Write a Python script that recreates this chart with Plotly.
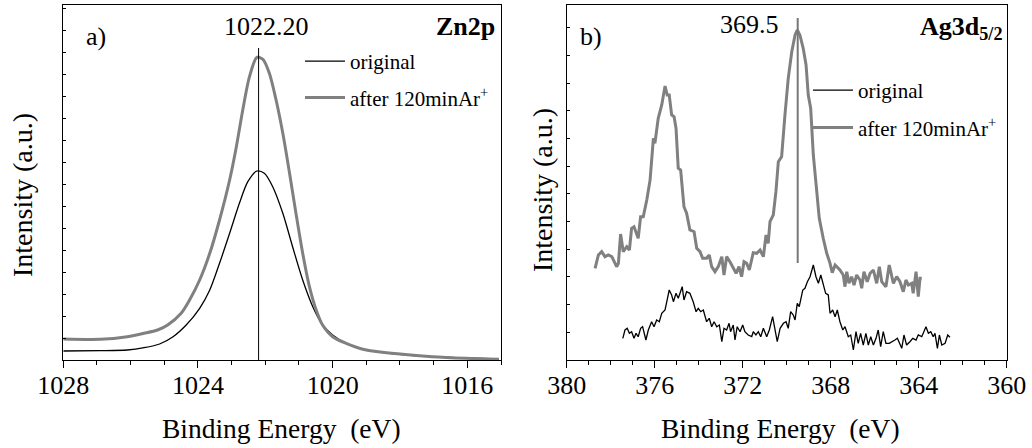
import plotly.graph_objects as go

# ---------- Panel a) Zn2p ----------
zn_be_after = [1028.0, 1026.9, 1026.1, 1025.6, 1025.2, 1024.9, 1024.5, 1024.25, 1023.95, 1023.65,
               1023.36, 1023.06, 1022.86, 1022.67, 1022.47, 1022.25, 1022.07, 1021.88, 1021.68,
               1021.48, 1021.28, 1021.09, 1020.89, 1020.69, 1020.49, 1020.3, 1020.0, 1019.6,
               1019.0, 1018.0, 1017.04, 1016.05, 1015.06]
zn_int_after = [21, 20.7, 23.3, 26.7, 30, 35, 46.7, 60, 80, 106.7,
                140, 180, 213.3, 250, 283.3, 302.7, 300.7, 286.7, 260,
                226.7, 186.7, 146.7, 106.7, 73.3, 50, 35, 23.3, 16.7,
                10, 6, 3.3, 1.7, 0.7]
zn_be_orig = [1028.0, 1026.9, 1026.1, 1025.6, 1025.14, 1024.74, 1024.35, 1023.95, 1023.65, 1023.36,
              1023.06, 1022.77, 1022.52, 1022.25, 1022.03, 1021.78, 1021.48, 1021.19, 1020.89,
              1020.59, 1020.3, 1020.0, 1019.6, 1019.0, 1018.0, 1017.04, 1016.05, 1015.06]
zn_int_orig = [9, 9.3, 10, 12.3, 16, 23.3, 35, 51.7, 70, 96.7,
               126.7, 156.7, 178.3, 189, 186.7, 173.3, 146.7, 113.3, 80,
               53.3, 35, 25, 16.7, 10, 5.7, 3.3, 2, 1]
zn_peak = 1022.20

# ---------- Panel b) Ag3d ----------
ag_be_after = [378.71, 378.56, 378.41, 378.26, 378.11, 377.95, 377.73, 377.65, 377.55, 377.43,
               377.27, 377.15, 377.05, 376.94, 376.75, 376.64, 376.52, 376.36, 376.21, 376.06,
               375.99, 375.84, 375.68, 375.53, 375.43, 375.34, 375.23, 375.12, 375.03, 374.93,
               374.82, 374.67, 374.55, 374.40, 374.21, 374.09, 373.94, 373.82, 373.64, 373.52,
               373.41, 373.26, 373.11, 372.95, 372.85, 372.73, 372.58, 372.43, 372.30, 372.17,
               372.05, 371.94, 371.82, 371.70, 371.52, 371.36, 371.21, 371.06, 370.94, 370.84,
               370.76, 370.61, 370.49, 370.38, 370.23, 370.08, 369.93, 369.77, 369.62, 369.52,
               369.40, 369.25, 369.12, 369.02, 368.91, 368.79, 368.67, 368.52, 368.34, 368.18,
               368.03, 367.93, 367.80, 367.58, 367.43, 367.35, 367.27, 367.17, 367.05, 366.94,
               366.82, 366.67, 366.59, 366.49, 366.34, 366.21, 366.06, 365.91, 365.79, 365.68,
               365.49, 365.34, 365.15, 365.00, 364.85, 364.70, 364.58, 364.47, 364.32, 364.25,
               364.12, 364.02, 363.94, 363.86]
ag_int_after = [91.7, 105, 108.3, 103.3, 105, 103.3, 93.3, 96.7, 126, 108.3,
                113.3, 110, 131.7, 133.3, 121.7, 143.3, 143.3, 160, 180, 221.7,
                216.7, 241.7, 255, 274, 265, 265, 245, 243.3, 231.7, 191.7,
                190, 153.3, 146.7, 130, 128.3, 111.7, 108.3, 101.7, 101.7, 105,
                93.3, 88.3, 93.3, 103.3, 85, 103.3, 98.3, 91.7, 86.7, 93.3,
                83.3, 98.3, 96.7, 90, 107.3, 106.7, 110, 103.3, 125, 116.7,
                138.3, 145, 168.3, 198.3, 203.3, 245, 281.7, 308.3, 325, 330,
                325, 311.7, 295, 265, 251.7, 205, 175, 141.7, 121.7, 106.7,
                96.7, 87.3, 95, 90, 85, 73.3, 88.3, 76.7, 83.3, 75,
                85, 80, 71.7, 88.3, 78.3, 86.7, 90, 76.7, 93.3, 78.3,
                73.3, 95, 76.7, 83.3, 78.3, 68.3, 80, 75, 76.7, 66.7,
                88.3, 63.3, 81.7, 81.7]
ag_be_orig = [377.45, 377.35, 377.25, 377.15, 377.05, 376.94, 376.85, 376.75, 376.64, 376.55,
              376.40, 376.29, 376.14, 376.03, 375.91, 375.79, 375.68, 375.53, 375.45, 375.34,
              375.23, 375.15, 375.03, 374.93, 374.85, 374.75, 374.67, 374.55, 374.40, 374.25,
              374.12, 374.02, 373.91, 373.79, 373.64, 373.52, 373.41, 373.30, 373.18, 373.06,
              372.95, 372.85, 372.73, 372.62, 372.55, 372.43, 372.35, 372.25, 372.12, 372.00,
              371.90, 371.75, 371.59, 371.52, 371.40, 371.29, 371.18, 371.06, 370.91, 370.79,
              370.64, 370.53, 370.43, 370.30, 370.15, 370.03, 369.93, 369.82, 369.70, 369.62,
              369.52, 369.43, 369.27, 369.17, 369.06, 368.94, 368.79, 368.67, 368.56, 368.45,
              368.34, 368.23, 368.11, 368.03, 367.91, 367.80, 367.70, 367.58, 367.45, 367.35,
              367.20, 367.09, 366.97, 366.85, 366.75, 366.64, 366.52, 366.40, 366.29, 366.18,
              366.06, 365.94, 365.84, 365.73, 365.61, 365.49, 365.34, 365.18, 365.08, 364.97,
              364.88, 364.77, 364.67, 364.55, 364.40, 364.27, 364.12, 364.02, 363.86, 363.76,
              363.67, 363.56, 363.45, 363.34, 363.26, 363.15, 363.06, 362.95, 362.80, 362.68,
              362.58]
ag_int_orig = [21.7, 30, 31.7, 26.7, 28.3, 21.7, 26.7, 23.3, 31.7, 33.3,
               20, 30, 38.3, 33.3, 40, 38.3, 46.7, 50, 58.3, 70,
               65, 58.3, 66.7, 61.7, 66.7, 73.3, 60, 68.3, 66.7, 58.3,
               48.3, 51.7, 48.3, 50, 38.3, 41.7, 33.3, 38.3, 33.3, 35,
               18.3, 31.7, 30, 36.7, 28.3, 35, 20, 33.3, 28.3, 35,
               28.3, 25, 23.3, 28.3, 25, 28.3, 23.3, 31.7, 23.3, 30,
               43.3, 31.7, 18.3, 31.7, 36.7, 38.3, 31.7, 48.3, 45, 40,
               56.7, 53.3, 70, 71.7, 78.3, 83.3, 95, 83.3, 76.7, 85,
               76.7, 66.7, 65, 46.7, 50, 43.3, 50, 38.3, 30, 33.3,
               23.3, 25, 10, 28.3, 16.7, 26.7, 15, 26.7, 15, 23.3,
               15, 21.7, 30, 13.3, 28.3, 16.7, 16.7, 18.3, 20, 21.7,
               16.7, 11.7, 25, 15, 18.3, 21.7, 20, 25, 23.3, 28.3,
               33.3, 26.7, 28.3, 23.3, 26.7, 11.7, 25, 15, 16.7, 25,
               22.7]
ag_peak = 369.5

zn_xticks = [1028, 1024, 1020, 1016]
ag_xticks = [380, 376, 372, 368, 364, 360]

FONT = "Liberation Serif, Times New Roman, serif"
GRAY = "#808080"

W, H = 1032, 448


def px(x):
    return x / W


def py(y):
    return 1 - y / H


fig = go.Figure()

# panel a
fig.add_trace(go.Scatter(x=zn_be_orig, y=zn_int_orig, mode="lines", name="original",
                         line=dict(color="black", width=1.3, shape="spline", smoothing=0.8),
                         xaxis="x", yaxis="y", legend="legend", legendgroup="a1"))
fig.add_trace(go.Scatter(x=zn_be_after, y=zn_int_after, mode="lines", name="after 120minAr<sup>+</sup>",
                         line=dict(color=GRAY, width=3, shape="spline", smoothing=0.8),
                         xaxis="x", yaxis="y", legend="legend", legendgroup="a2"))
fig.add_trace(go.Scatter(x=[zn_peak, zn_peak], y=[0, 312], mode="lines", showlegend=False,
                         line=dict(color="black", width=1), xaxis="x", yaxis="y", hoverinfo="skip"))

# panel b
fig.add_trace(go.Scatter(x=ag_be_orig, y=ag_int_orig, mode="lines", name="original",
                         line=dict(color="black", width=1.3), xaxis="x2", yaxis="y2",
                         legend="legend2", legendgroup="b1"))
fig.add_trace(go.Scatter(x=ag_be_after, y=ag_int_after, mode="lines", name="after 120minAr<sup>+</sup>",
                         line=dict(color=GRAY, width=3), xaxis="x2", yaxis="y2",
                         legend="legend2", legendgroup="b2"))
fig.add_trace(go.Scatter(x=[ag_peak, ag_peak], y=[97, 342], mode="lines", showlegend=False,
                         line=dict(color="#777777", width=2), xaxis="x2", yaxis="y2", hoverinfo="skip"))

ydom = [py(360), py(5)]

xaxis_common = dict(showline=True, linecolor="black", linewidth=1.3, mirror=True,
                    ticks="outside", ticklen=7, tickwidth=1.2, tickcolor="black",
                    showgrid=False, zeroline=False, automargin=False, ticklabelstandoff=-5,
                    tickfont=dict(family=FONT, size=26, color="black"),
                    minor=dict(dtick=1, ticks="outside", ticklen=4, tickwidth=1, tickcolor="black"))
yaxis_common = dict(showline=True, linecolor="black", linewidth=1.3, mirror=True,
                    ticks="inside", ticklen=3, tickwidth=1, tickcolor="black", automargin=False,
                    showticklabels=False, showgrid=False, zeroline=False, range=[0, 355])

fig.update_layout(
    width=W, height=H,
    margin=dict(l=0, r=0, t=0, b=0, autoexpand=False),
    paper_bgcolor="white", plot_bgcolor="white",
    font=dict(family=FONT, color="black"),
    xaxis=dict(xaxis_common, domain=[px(63.3), px(501)], range=[1028, 1015],
               tickvals=zn_xticks, anchor="y"),
    yaxis=dict(yaxis_common, domain=ydom, anchor="x", tick0=0, dtick=22),
    xaxis2=dict(xaxis_common, domain=[px(566.7), px(1006.7)], range=[380, 360],
                tickvals=ag_xticks, anchor="y2"),
    yaxis2=dict(yaxis_common, domain=ydom, anchor="x2", tick0=0, dtick=27.7),
    legend=dict(x=px(300), y=py(41), xanchor="left", yanchor="top", itemwidth=40,
                font=dict(family=FONT, size=21, color="black"), bgcolor="rgba(0,0,0,0)",
                tracegroupgap=6),
    legend2=dict(x=px(808), y=py(70), xanchor="left", yanchor="top", itemwidth=40,
                 font=dict(family=FONT, size=21, color="black"), bgcolor="rgba(0,0,0,0)",
                 tracegroupgap=7),
    showlegend=True,
)

ann = []


def a(text, x, y, size=26, xanchor="center", bold=False, textangle=0):
    ann.append(dict(text=("<b>%s</b>" % text) if bold else text, x=px(x), y=py(y),
                    xref="paper", yref="paper", xanchor=xanchor, yanchor="middle",
                    showarrow=False, textangle=textangle,
                    font=dict(family=FONT, size=size, color="black")))


a("1022.20", 266, 27)
a("a)", 96, 37)
a("Zn2p", 497, 27, size=26, xanchor="right", bold=True)
a("369.5", 749, 25)
a("b)", 591, 37)
a("Ag3d<sub>5/2</sub>", 1005, 28, size=26, xanchor="right", bold=True)
a("Binding Energy\u00a0 (eV)", 281, 428, size=27.5)
a("Binding Energy\u00a0 (eV)", 780, 428, size=27.5)
a("Intensity (a.u.)", 22, 195, size=28, textangle=-90)
a("Intensity (a.u.)", 543, 190, size=28, textangle=-90)
fig.update_layout(annotations=ann)

# remove the default 8px body margin so the figure fills the window exactly
fig.write_html("out.html", config={"displayModeBar": False},
               post_script="document.body.style.margin='0px';")
